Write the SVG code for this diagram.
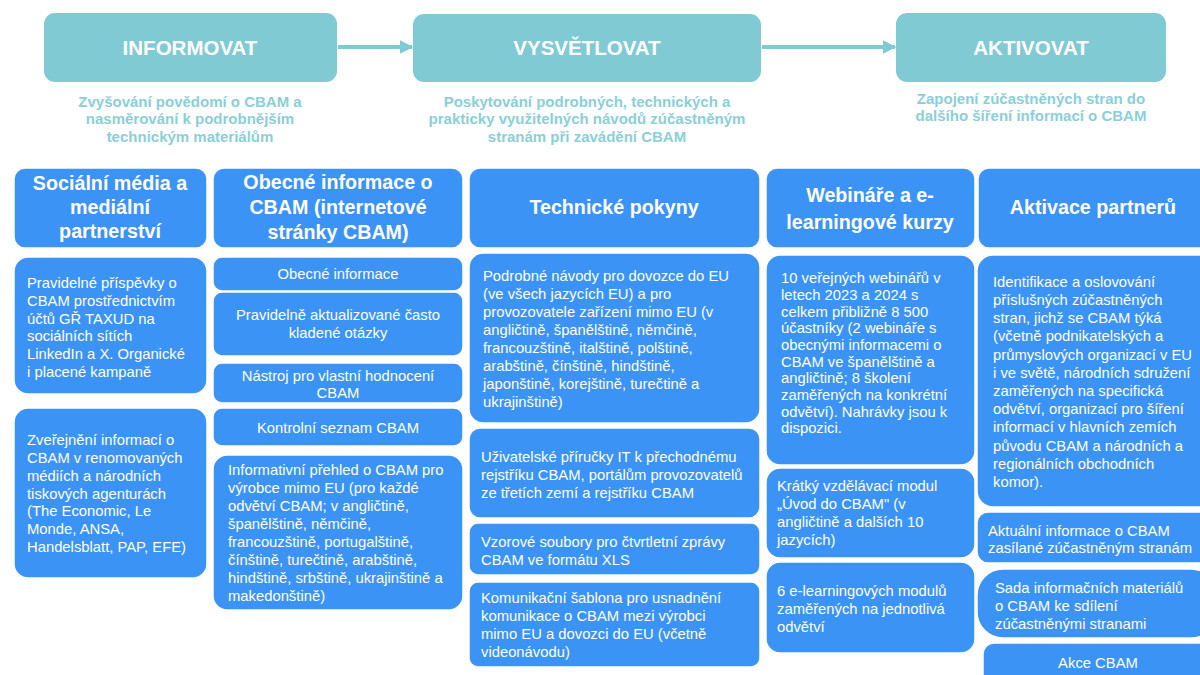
<svg xmlns="http://www.w3.org/2000/svg" width="1200" height="675" viewBox="0 0 1200 675">
<defs>
<marker id="ah" viewBox="0 0 10 10" refX="9" refY="5" markerWidth="3.4" markerHeight="3.4" orient="auto" markerUnits="strokeWidth"><path d="M0,0 L10,5 L0,10 Z" fill="#80CAD3"/></marker>
</defs>
<style>
.phase{fill:#80CAD3;}
.pt{font-family:"Liberation Sans",Arial,sans-serif;font-weight:bold;font-size:20.5px;fill:#ffffff;text-anchor:middle;}
.sub{font-family:"Liberation Sans",Arial,sans-serif;font-weight:bold;font-size:15px;fill:#8ACFD8;text-anchor:middle;}
.bx{fill:#3B93F5;stroke:#ffffff;stroke-width:1.5;}
.hd{font-family:"Liberation Sans",Arial,sans-serif;font-weight:bold;font-size:19.7px;fill:#ffffff;text-anchor:middle;}
.tx{font-family:"Liberation Sans",Arial,sans-serif;font-size:14.8px;fill:#ffffff;}
.c{text-anchor:middle;}
.conn{stroke:#80CAD3;stroke-width:4;fill:none;}
</style>
<rect width="1200" height="675" fill="#ffffff"/>

<g id="connectors">
<line class="conn" x1="338" y1="47" x2="412" y2="47" marker-end="url(#ah)"/>
<line class="conn" x1="762" y1="47" x2="895" y2="47" marker-end="url(#ah)"/>
</g>

<g id="informovat">
<rect class="phase" x="44" y="13" width="293" height="69" rx="11"/>
<text class="pt" x="190" y="54.5">INFORMOVAT</text>
<text class="sub" x="190" y="106.5">Zvyšování povědomí o CBAM a</text>
<text class="sub" x="190" y="124">nasměrování k podrobnějším</text>
<text class="sub" x="190" y="141.5">technickým materiálům</text>
</g>
<g id="vysvetlovat">
<rect class="phase" x="413" y="14" width="348" height="68" rx="11"/>
<text class="pt" x="587" y="54.5">VYSVĚTLOVAT</text>
<text class="sub" x="587" y="106.5">Poskytování podrobných, technických a</text>
<text class="sub" x="587" y="124">prakticky využitelných návodů zúčastněným</text>
<text class="sub" x="587" y="141.5">stranám při zavádění CBAM</text>
</g>
<g id="aktivovat">
<rect class="phase" x="896" y="13" width="270" height="69" rx="11"/>
<text class="pt" x="1031" y="54.5">AKTIVOVAT</text>
<text class="sub" x="1031" y="103.5">Zapojení zúčastněných stran do</text>
<text class="sub" x="1031" y="121">dalšího šíření informací o CBAM</text>
</g>

<g id="col1-header">
<rect class="bx" x="14" y="168" width="193" height="80" rx="11"/>
<text class="hd" x="110" y="190">Sociální média a</text>
<text class="hd" x="110" y="214">mediální</text>
<text class="hd" x="110" y="238">partnerství</text>
</g>
<g id="col1-box1">
<rect class="bx" x="14" y="257" width="193" height="137" rx="14"/>
<text class="tx" x="27" y="288">Pravidelné příspěvky o</text>
<text class="tx" x="27" y="306">CBAM prostřednictvím</text>
<text class="tx" x="27" y="324">účtů GŘ TAXUD na</text>
<text class="tx" x="27" y="341">sociálních sítích</text>
<text class="tx" x="27" y="359">LinkedIn a X. Organické</text>
<text class="tx" x="27" y="377">i placené kampaně</text>
</g>
<g id="col1-box2">
<rect class="bx" x="14" y="408" width="193" height="170" rx="14"/>
<text class="tx" x="27" y="445">Zveřejnění informací o</text>
<text class="tx" x="27" y="463">CBAM v renomovaných</text>
<text class="tx" x="27" y="481">médiích a národních</text>
<text class="tx" x="27" y="499">tiskových agenturách</text>
<text class="tx" x="27" y="516">(The Economic, Le</text>
<text class="tx" x="27" y="534">Monde, ANSA,</text>
<text class="tx" x="27" y="552">Handelsblatt, PAP, EFE)</text>
</g>

<g id="col2-header">
<rect class="bx" x="213" y="168" width="250" height="80" rx="11"/>
<text class="hd" x="338" y="189">Obecné informace o</text>
<text class="hd" x="338" y="214">CBAM (internetové</text>
<text class="hd" x="338" y="239">stránky CBAM)</text>
</g>
<g id="col2-box1">
<rect class="bx" x="213" y="257" width="250" height="34" rx="9"/>
<text class="tx c" x="338" y="279">Obecné informace</text>
</g>
<g id="col2-box2">
<rect class="bx" x="213" y="292" width="250" height="64" rx="9"/>
<text class="tx c" x="338" y="320">Pravidelně aktualizované často</text>
<text class="tx c" x="338" y="338">kladené otázky</text>
</g>
<g id="col2-box3">
<rect class="bx" x="213" y="363" width="250" height="40" rx="9"/>
<text class="tx c" x="338" y="381">Nástroj pro vlastní hodnocení</text>
<text class="tx c" x="338" y="398">CBAM</text>
</g>
<g id="col2-box4">
<rect class="bx" x="213" y="408" width="250" height="38" rx="9"/>
<text class="tx c" x="338" y="433">Kontrolní seznam CBAM</text>
</g>
<g id="col2-box5">
<rect class="bx" x="213" y="455" width="250" height="155" rx="14"/>
<text class="tx" x="228" y="475">Informativní přehled o CBAM pro</text>
<text class="tx" x="228" y="493">výrobce mimo EU (pro každé</text>
<text class="tx" x="228" y="511">odvětví CBAM; v angličtině,</text>
<text class="tx" x="228" y="529">španělštině, němčině,</text>
<text class="tx" x="228" y="547">francouzštině, portugalštině,</text>
<text class="tx" x="228" y="565">čínštině, turečtině, arabštině,</text>
<text class="tx" x="228" y="583">hindštině, srbštině, ukrajinštině a</text>
<text class="tx" x="228" y="601">makedonštině)</text>
</g>

<g id="col3-header">
<rect class="bx" x="469" y="168" width="291" height="80" rx="11"/>
<text class="hd" x="614" y="214">Technické pokyny</text>
</g>
<g id="col3-box1">
<rect class="bx" x="469" y="253" width="291" height="170" rx="14"/>
<text class="tx" x="483" y="281">Podrobné návody pro dovozce do EU</text>
<text class="tx" x="483" y="299">(ve všech jazycích EU) a pro</text>
<text class="tx" x="483" y="317">provozovatele zařízení mimo EU (v</text>
<text class="tx" x="483" y="335">angličtině, španělštině, němčině,</text>
<text class="tx" x="483" y="353">francouzštině, italštině, polštině,</text>
<text class="tx" x="483" y="371">arabštině, čínštině, hindštině,</text>
<text class="tx" x="483" y="389">japonštině, korejštině, turečtině a</text>
<text class="tx" x="483" y="407">ukrajinštině)</text>
</g>
<g id="col3-box2">
<rect class="bx" x="469" y="428" width="291" height="90" rx="11"/>
<text class="tx" x="481" y="462">Uživatelské příručky IT k přechodnému</text>
<text class="tx" x="481" y="480">rejstříku CBAM, portálům provozovatelů</text>
<text class="tx" x="481" y="498">ze třetích zemí a rejstříku CBAM</text>
</g>
<g id="col3-box3">
<rect class="bx" x="469" y="523" width="291" height="52" rx="9"/>
<text class="tx" x="481" y="547">Vzorové soubory pro čtvrtletní zprávy</text>
<text class="tx" x="481" y="565">CBAM ve formátu XLS</text>
</g>
<g id="col3-box4">
<rect class="bx" x="469" y="582" width="291" height="85" rx="9"/>
<text class="tx" x="481" y="603">Komunikační šablona pro usnadnění</text>
<text class="tx" x="481" y="621">komunikace o CBAM mezi výrobci</text>
<text class="tx" x="481" y="639">mimo EU a dovozci do EU (včetně</text>
<text class="tx" x="481" y="657">videonávodu)</text>
</g>

<g id="col4-header">
<rect class="bx" x="766" y="168" width="209" height="80" rx="11"/>
<text class="hd" x="870" y="202">Webináře a e-</text>
<text class="hd" x="870" y="229">learningové kurzy</text>
</g>
<g id="col4-box1">
<rect class="bx" x="766" y="255" width="209" height="210" rx="14"/>
<text class="tx" x="781" y="283">10 veřejných webinářů v</text>
<text class="tx" x="781" y="300">letech 2023 a 2024 s</text>
<text class="tx" x="781" y="317">celkem přibližně 8 500</text>
<text class="tx" x="781" y="333">účastníky (2 webináře s</text>
<text class="tx" x="781" y="350">obecnými informacemi o</text>
<text class="tx" x="781" y="367">CBAM ve španělštině a</text>
<text class="tx" x="781" y="383">angličtině; 8 školení</text>
<text class="tx" x="781" y="400">zaměřených na konkrétní</text>
<text class="tx" x="781" y="417">odvětví). Nahrávky jsou k</text>
<text class="tx" x="781" y="433">dispozici.</text>
</g>
<g id="col4-box2">
<rect class="bx" x="766" y="468" width="209" height="90" rx="14"/>
<text class="tx" x="777" y="491">Krátký vzdělávací modul</text>
<text class="tx" x="777" y="509">„Úvod do CBAM" (v</text>
<text class="tx" x="777" y="527">angličtině a dalších 10</text>
<text class="tx" x="777" y="545">jazycích)</text>
</g>
<g id="col4-box3">
<rect class="bx" x="766" y="562" width="209" height="91" rx="14"/>
<text class="tx" x="777" y="596">6 e-learningových modulů</text>
<text class="tx" x="777" y="614">zaměřených na jednotlivá</text>
<text class="tx" x="777" y="632">odvětví</text>
</g>

<g id="col5-header">
<rect class="bx" x="978" y="168" width="240" height="80" rx="11"/>
<text class="hd" x="1093" y="214">Aktivace partnerů</text>
</g>
<g id="col5-box1">
<rect class="bx" x="977" y="255" width="240" height="252" rx="16"/>
<text class="tx" x="993" y="287">Identifikace a oslovování</text>
<text class="tx" x="993" y="305">příslušných zúčastněných</text>
<text class="tx" x="993" y="323">stran, jichž se CBAM týká</text>
<text class="tx" x="993" y="341">(včetně podnikatelských a</text>
<text class="tx" x="993" y="360">průmyslových organizací v EU</text>
<text class="tx" x="993" y="378">i ve světě, národních sdružení</text>
<text class="tx" x="993" y="396">zaměřených na specifická</text>
<text class="tx" x="993" y="414">odvětví, organizací pro šíření</text>
<text class="tx" x="993" y="432">informací v hlavních zemích</text>
<text class="tx" x="993" y="451">původu CBAM a národních a</text>
<text class="tx" x="993" y="469">regionálních obchodních</text>
<text class="tx" x="993" y="487">komor).</text>
</g>
<g id="col5-box2">
<rect class="bx" x="977" y="512" width="240" height="51" rx="11"/>
<text class="tx" x="988" y="536">Aktuální informace o CBAM</text>
<text class="tx" x="988" y="553">zasílané zúčastněným stranám</text>
</g>
<g id="col5-box3">
<rect class="bx" x="977" y="569" width="240" height="69" rx="26"/>
<text class="tx" x="995" y="593">Sada informačních materiálů</text>
<text class="tx" x="995" y="611">o CBAM ke sdílení</text>
<text class="tx" x="995" y="629">zúčastněnými stranami</text>
</g>
<g id="col5-box4">
<rect class="bx" x="983" y="643" width="240" height="50" rx="11"/>
<text class="tx c" x="1098" y="668">Akce CBAM</text>
</g>
</svg>
